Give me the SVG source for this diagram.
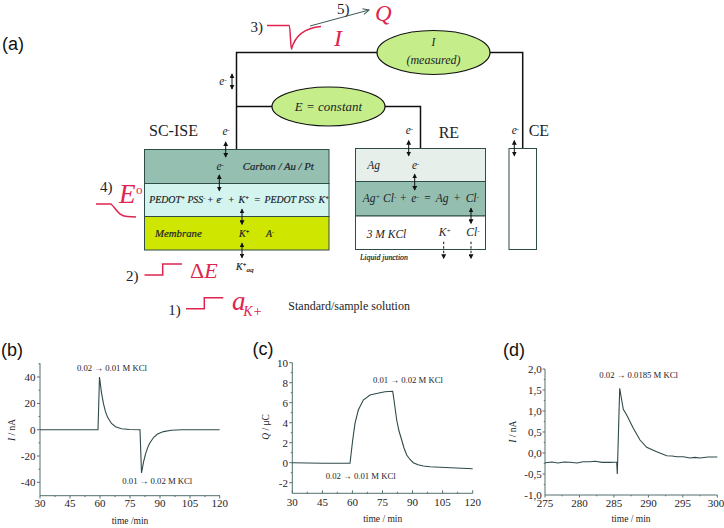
<svg xmlns="http://www.w3.org/2000/svg" width="724" height="528" viewBox="0 0 724 528">
<style>
text{font-family:"Liberation Serif","Times New Roman",serif;fill:#1c2328}
.panel{font-family:"Liberation Sans",Arial,sans-serif;font-size:18px;fill:#111}
.i{font-style:italic}
.lab{font-size:16px}
.num{font-size:15px}
.s{font-style:italic;font-size:9.8px;stroke:#1c2328;stroke-width:.2}
.m{font-style:italic;font-size:11.5px}
.red{fill:#e0244f;font-style:italic}
.wire{fill:none;stroke:#111;stroke-width:1.5}
.box{stroke:#2f4d48;stroke-width:1}
.dbl{stroke:#111;stroke-width:1;marker-start:url(#a);marker-end:url(#a)}
.dash{stroke:#111;stroke-width:1;stroke-dasharray:2.5 2;marker-end:url(#a)}
.rc{fill:none;stroke:#e0244f;stroke-width:1.5}
.ax{fill:none;stroke:#52716f;stroke-width:1}
.cv{fill:none;stroke:#2f4a4a;stroke-width:1.1}
.t{font-size:11px}
.tm{text-anchor:middle}
.te{text-anchor:end}
.an{font-size:8.7px}
.ti{font-size:9.5px}
ellipse{fill:#c5ee8a;stroke:#111;stroke-width:1.2}
</style>
<defs>
<marker id="a" viewBox="0 0 6 6" refX="5" refY="3" markerWidth="5" markerHeight="5" orient="auto-start-reverse" markerUnits="userSpaceOnUse"><path d="M0 0L6 3L0 6z" fill="#111"/></marker>
<marker id="g" viewBox="0 0 8 8" refX="7" refY="4" markerWidth="8" markerHeight="8" orient="auto" markerUnits="userSpaceOnUse"><path d="M1 1L7 4L1 7" fill="none" stroke="#3d5757" stroke-width="1"/></marker>
</defs>

<text class="panel" x="2" y="50">(a)</text>

<g id="node-sc-ise">
<rect class="box" x="144.5" y="149.5" width="184.5" height="34" fill="#95bfb1"/>
<rect class="box" x="144.5" y="183.5" width="184.5" height="33" fill="#d4f5ef"/>
<rect class="box" x="144.5" y="216.5" width="184.5" height="33.5" fill="#cfe600"/>
<text class="lab" x="149" y="136">SC-ISE</text>
<text class="m" x="222.5" y="135">e<tspan font-size="7" dy="-3">-</tspan></text>
<text class="m" x="216.5" y="169.5">e<tspan font-size="7" dy="-3">-</tspan></text>
<text class="s" x="242.7" y="169.5" style="font-size:10.8px">Carbon / Au / Pt</text>
<text class="s" x="149.3" y="202.7">PEDOT<tspan font-size="6" dy="-3">+</tspan><tspan dy="3"> PSS</tspan><tspan font-size="6" dy="-3">-</tspan></text>
<text class="s" x="207.5" y="202.7" style="font-style:normal">+</text>
<text class="s" x="216.5" y="202.7">e<tspan font-size="6" dy="-3">-</tspan></text>
<text class="s" x="228.5" y="202.7" style="font-style:normal">+</text>
<text class="s" x="238.5" y="202.7">K<tspan font-size="6" dy="-3">+</tspan></text>
<text class="s" x="254.5" y="202.7" style="font-style:normal">=</text>
<text class="s" x="264.5" y="202.7">PEDOT PSS<tspan font-size="6" dy="-3">-</tspan><tspan dy="3"> K</tspan><tspan font-size="6" dy="-3">+</tspan></text>
<text class="s" x="155" y="236.7" style="font-size:10.8px">Membrane</text>
<text class="s" x="239" y="236.7">K<tspan font-size="6" dy="-3">+</tspan></text>
<text class="s" x="266" y="236.7">A<tspan font-size="6" dy="-3">-</tspan></text>
<text class="s" x="236" y="270">K<tspan font-size="6" dy="-3">+</tspan><tspan font-size="7" dy="5">aq</tspan></text>
</g>

<g id="node-re">
<rect class="box" x="355.5" y="148.5" width="130" height="33" fill="#e6efea"/>
<rect class="box" x="355.5" y="181.5" width="130" height="34.5" fill="#94bfb0"/>
<rect class="box" x="355.5" y="216" width="130" height="33.5" fill="#fff"/>
<text class="lab" x="438.7" y="137.5">RE</text>
<text class="m" x="405.7" y="134.3">e<tspan font-size="7" dy="-3">-</tspan></text>
<text class="m" x="367.3" y="168.7">Ag</text>
<text class="m" x="412" y="168.7">e<tspan font-size="7" dy="-3">-</tspan></text>
<text class="m" x="362.7" y="201.7">Ag<tspan font-size="7" dy="-3">+</tspan><tspan dy="3"> Cl</tspan><tspan font-size="7" dy="-3">-</tspan></text>
<text class="m" x="400" y="201.7" style="font-style:normal">+</text>
<text class="m" x="411.3" y="201.7">e<tspan font-size="7" dy="-3">-</tspan></text>
<text class="m" x="424.3" y="201.7" style="font-style:normal">=</text>
<text class="m" x="435.7" y="201.7">Ag</text>
<text class="m" x="453.7" y="201.7" style="font-style:normal">+</text>
<text class="m" x="465.7" y="201.7">Cl<tspan font-size="7" dy="-3">-</tspan></text>
<text class="m" x="366.7" y="237.7">3 M KCl</text>
<text class="m" x="438.7" y="235.7">K<tspan font-size="7" dy="-3">+</tspan></text>
<text class="m" x="466.3" y="235.7">Cl<tspan font-size="7" dy="-3">-</tspan></text>
<text class="s" x="360" y="260" style="font-size:7.8px">Liquid junction</text>
</g>

<g id="node-ce">
<rect class="box" x="509" y="148.5" width="27.5" height="101" fill="#fff"/>
<text class="lab" x="528.7" y="136">CE</text>
<text class="m" x="511.7" y="134.3">e<tspan font-size="7" dy="-3">-</tspan></text>
</g>

<g id="node-i-measured">
<ellipse cx="433.5" cy="52.5" rx="56.5" ry="22"/>
<text class="m tm" x="433.5" y="46">I</text>
<text class="m tm" x="433.5" y="64" style="font-size:12px">(measured)</text>
</g>

<g id="node-e-constant">
<ellipse cx="328.5" cy="106.5" rx="56.5" ry="19.5"/>
<text class="m tm" x="328.5" y="110.5" style="font-size:13px">E = constant</text>
</g>

<g id="connectors">
<path class="wire" d="M236.5 149V52.5H377"/>
<path class="wire" d="M236.5 106.5H272"/>
<path class="wire" d="M385 106.5H420.5V148"/>
<path class="wire" d="M490 52.5H522.7V148"/>
<line class="dbl" x1="232" y1="74" x2="232" y2="89"/>
<line class="dbl" x1="225.7" y1="142" x2="225.7" y2="157"/>
<line class="dbl" x1="219.3" y1="175" x2="219.3" y2="190.7"/>
<line class="dbl" x1="242" y1="209.3" x2="242" y2="224.3"/>
<line class="dbl" x1="242" y1="243.3" x2="242" y2="257.7"/>
<line class="dbl" x1="408.7" y1="140.7" x2="408.7" y2="155.7"/>
<line class="dbl" x1="414.7" y1="174.3" x2="414.7" y2="190"/>
<line class="dbl" x1="471" y1="208.3" x2="471" y2="223.3"/>
<line class="dbl" x1="514.3" y1="140.7" x2="514.3" y2="155.7"/>
<line class="dash" x1="443.7" y1="241.7" x2="443.7" y2="258.3"/>
<line class="dash" x1="471" y1="241.7" x2="471" y2="258.3"/>
<line x1="310" y1="26" x2="369" y2="10" stroke="#3d5757" stroke-width="1" marker-end="url(#g)"/>
</g>

<text class="m" x="219.3" y="85">e<tspan font-size="7" dy="-3">-</tspan></text>

<g id="step-3">
<text class="num" x="250.5" y="32">3)</text>
<path class="rc" d="M267 25.5H289C290.5 26 290.5 49 291.5 49C295 36 304 28 321 26.5"/>
<text class="red" x="334" y="46" font-size="24">I</text>
</g>
<g id="step-5">
<text class="num" x="337" y="13.5">5)</text>
<text class="red" x="375" y="20.6" font-size="23">Q</text>
</g>
<g id="step-4">
<text class="num" x="100" y="192">4)</text>
<text class="red" x="119" y="203" font-size="27">E</text>
<text x="136" y="194" font-size="13" style="fill:#e0244f">o</text>
<path class="rc" d="M96 204H111C116 208 118 216 127 216.5L136 217"/>
</g>
<g id="step-2">
<text class="num" x="126" y="280.7">2)</text>
<path class="rc" d="M144.5 275H162.7V264H182"/>
<text x="190" y="277.7" font-size="22" style="fill:#e0244f">Δ<tspan font-style="italic">E</tspan></text>
</g>
<g id="step-1">
<text class="num" x="168.3" y="314.7">1)</text>
<path class="rc" d="M186 308.7H204.3V297.7H223.3"/>
<text class="red" x="232" y="310.3" font-size="27">a</text>
<text class="red" x="243.3" y="316" font-size="14">K+</text>
<text x="288.3" y="310" font-size="12">Standard/sample solution</text>
</g>

<text class="panel" x="1" y="356">(b)</text>
<g id="plot-b">
<path class="ax" d="M40 363.3V495.7H220"/>
<path class="ax" d="M37 377h3M37 403.4h3M37 429.7h3M37 456h3M37 482.3h3M38.5 363.8h1.5M38.5 390.2h1.5M38.5 416.5h1.5M38.5 442.9h1.5M38.5 469.2h1.5M40 498.5v-3M70 498.5v-3M100 498.5v-3M130 498.5v-3M160 498.5v-3M190 498.5v-3M219.7 498.5v-3M55 497v-1.5M85 497v-1.5M115 497v-1.5M145 497v-1.5M175 497v-1.5M205 497v-1.5"/>
<path class="cv" d="M40 429.7H98L99.5 377L101.5 392.8L103.5 403.9L105.5 411.7L107.5 417.1L111.5 423.5L115.5 426.7L121.5 428.7L129.5 429.5L140 429.7L141.5 473L143.5 462.2L145.5 454.2L147.5 448.1L149.5 443.5L153.5 437.5L157.5 434L163.5 431.6L171.5 430.3L181.5 429.7H219.7"/>
<g class="t">
<text class="te t" x="35.5" y="381">40</text><text class="te t" x="35.5" y="407.4">20</text><text class="te t" x="35.5" y="433.7">0</text><text class="te t" x="35.5" y="460">-20</text><text class="te t" x="35.5" y="486.3">-40</text>
<text class="tm t" x="40" y="507">30</text><text class="tm t" x="70" y="507">45</text><text class="tm t" x="100" y="507">60</text><text class="tm t" x="130" y="507">75</text><text class="tm t" x="160" y="507">90</text><text class="tm t" x="190" y="507">105</text><text class="tm t" x="219.7" y="507">120</text>
</g>
<text class="tm ti" x="130" y="524">time /min</text>
<text class="tm ti" transform="translate(14.5 430) rotate(-90)"><tspan font-style="italic">I</tspan> / nA</text>
<text class="an" x="77" y="370.7">0.02 → 0.01 M KCl</text>
<text class="an" x="122.3" y="484">0.01 → 0.02 M KCl</text>
</g>

<text class="panel" x="252.5" y="355">(c)</text>
<g id="plot-c">
<path class="ax" d="M292.3 362.7V493.3H472.7"/>
<path class="ax" d="M289.3 362.7h3M289.3 382.7h3M289.3 402.7h3M289.3 422.7h3M289.3 442.7h3M289.3 462.7h3M289.3 482.7h3M290.8 372.7h1.5M290.8 392.7h1.5M290.8 412.7h1.5M290.8 432.7h1.5M290.8 452.7h1.5M290.8 472.7h1.5M292.3 490.3v3M322.4 490.3v3M352.4 490.3v3M382.5 490.3v3M412.5 490.3v3M442.6 490.3v3M472.7 490.3v3M307.3 491.8v1.5M337.4 491.8v1.5M367.4 491.8v1.5M397.5 491.8v1.5M427.5 491.8v1.5M457.6 491.8v1.5"/>
<path class="cv" d="M292.3 462.7L323.3 463.3H350L352.7 440L355 423.3L358.3 410L363.3 400L370 395L380 392.7L385 391.7L392.7 391.3L394 400L396.7 420L399 431L401.7 440L404 448L406.7 455L410 459.5L413.3 462.7L418 464.8L423.3 466L430 466.8L440 467.3L472.7 468.7"/>
<text class="te t" x="288" y="366.7">10</text><text class="te t" x="288" y="386.7">8</text><text class="te t" x="288" y="406.7">6</text><text class="te t" x="288" y="426.7">4</text><text class="te t" x="288" y="446.7">2</text><text class="te t" x="288" y="466.7">0</text><text class="te t" x="288" y="486.7">-2</text>
<text class="tm t" x="292.3" y="505.5">30</text><text class="tm t" x="322.4" y="505.5">45</text><text class="tm t" x="352.4" y="505.5">60</text><text class="tm t" x="382.5" y="505.5">75</text><text class="tm t" x="412.5" y="505.5">90</text><text class="tm t" x="442.6" y="505.5">105</text><text class="tm t" x="472.7" y="505.5">120</text>
<text class="tm ti" x="382.7" y="521.7">time / min</text>
<text class="tm ti" transform="translate(269 427) rotate(-90)"><tspan font-style="italic">Q</tspan> / μC</text>
<text class="an" x="373" y="382.7">0.01 → 0.02 M KCl</text>
<text class="an" x="325.7" y="479.3">0.02 → 0.01 M KCl</text>
</g>

<text class="panel" x="503" y="356">(d)</text>
<g id="plot-d">
<path class="ax" d="M545 369V495H717.3"/>
<path class="ax" d="M542.5 369h2.5M542.5 390h2.5M542.5 411h2.5M542.5 432h2.5M542.5 453h2.5M542.5 474h2.5M543.8 379.5h1.2M543.8 400.5h1.2M543.8 421.5h1.2M543.8 442.5h1.2M543.8 463.5h1.2M543.8 484.5h1.2M545 497.5v-2.5M579.5 497.5v-2.5M613.9 497.5v-2.5M648.4 497.5v-2.5M682.8 497.5v-2.5M717.3 497.5v-2.5M562.2 496.3v-1.3M596.7 496.3v-1.3M631.1 496.3v-1.3M665.6 496.3v-1.3M700 496.3v-1.3"/>
<path class="cv" d="M545 462.7L552 462L558 463L564 462L570 462.3L577 463L583 461.8L590 461.8L595 461.3L602 462.4L610 462.4L616.7 462L617.3 474L619.7 388.3L621.7 400L623.3 409.3L626.7 415L633.3 428.3L640 440L646.7 447.3L656.7 451.7L666.7 455.7L672 456L677 456.8L683.3 456.7L690 458L695 457.4L700 458L708 457L717.3 457"/>
<g>
<text class="te t" x="541.7" y="373">2,0</text><text class="te t" x="541.7" y="394">1,5</text><text class="te t" x="541.7" y="415">1,0</text><text class="te t" x="541.7" y="436">0,5</text><text class="te t" x="541.7" y="457">0,0</text><text class="te t" x="541.7" y="478">-0,5</text><text class="te t" x="541.7" y="499">-1,0</text>
<text class="tm t" x="545" y="507">275</text><text class="tm t" x="579.5" y="507">280</text><text class="tm t" x="613.9" y="507">285</text><text class="tm t" x="648.4" y="507">290</text><text class="tm t" x="682.8" y="507">295</text><text class="tm t" x="716" y="507">300</text>
</g>
<text class="tm ti" x="631" y="521.7">time / min</text>
<text class="tm ti" transform="translate(516 431.7) rotate(-90)"><tspan font-style="italic">I</tspan> / nA</text>
<text class="an" x="599.3" y="377.7">0.02 → 0.0185 M KCl</text>
</g>
</svg>
